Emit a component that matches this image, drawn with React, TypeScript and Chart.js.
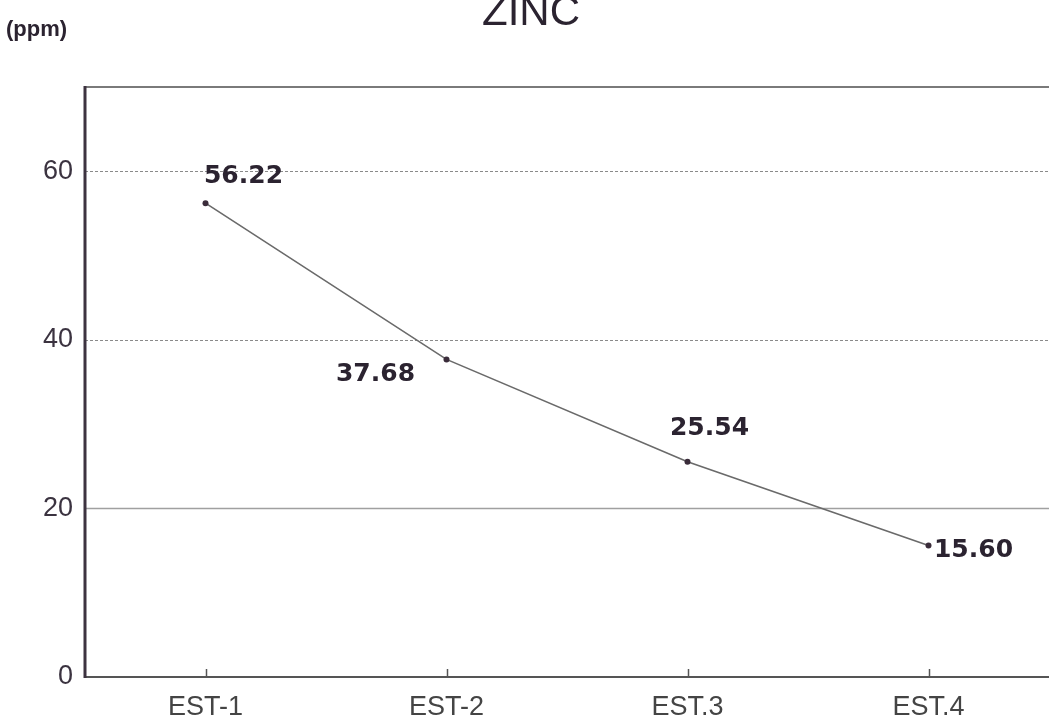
import React, { useEffect, useRef } from "react";
import { Chart, registerables } from "chart.js";

Chart.register(...registerables);

const categories = ["EST-1", "EST-2", "EST.3", "EST.4"];
const zincValues = [56.22, 37.68, 25.54, 15.6];
const valueLabels = ["56.22", "37.68", "25.54", "15.60"];
const gridValues = [20, 40, 60];
const gridDashes = [[], [3, 2], [3, 2]];
const labelOffsets = [
  [38, -20],
  [-71, 22],
  [22, -27],
  [45, 11],
];
const titleText = "ZINC";
const unitText = "(ppm)";

const decorPlugin = {
  id: "decor",
  beforeDatasetsDraw(chart: any) {
    const { ctx, chartArea, scales } = chart;
    const y = scales.y;
    const x = scales.x;
    ctx.save();
    gridValues.forEach((v, i) => {
      const py = Math.round(y.getPixelForValue(v)) + 0.5;
      ctx.beginPath();
      ctx.setLineDash(gridDashes[i]);
      ctx.strokeStyle = i === 0 ? "#a0a0a0" : "#8a8a8a";
      ctx.lineWidth = i === 0 ? 1.6 : 1.2;
      ctx.moveTo(chartArea.left, py);
      ctx.lineTo(chartArea.right, py);
      ctx.stroke();
    });
    ctx.setLineDash([]);
    ctx.beginPath();
    ctx.strokeStyle = "#7a7a7a";
    ctx.lineWidth = 2;
    ctx.moveTo(chartArea.left, chartArea.top);
    ctx.lineTo(chartArea.right, chartArea.top);
    ctx.stroke();
    ctx.beginPath();
    ctx.strokeStyle = "#555";
    ctx.lineWidth = 2;
    ctx.moveTo(chartArea.left, chartArea.bottom);
    ctx.lineTo(chartArea.right, chartArea.bottom);
    ctx.stroke();
    categories.forEach((_, i) => {
      const px = Math.round(x.getPixelForValue(i)) + 0.5;
      ctx.beginPath();
      ctx.strokeStyle = "#555";
      ctx.lineWidth = 1.5;
      ctx.moveTo(px, chartArea.bottom);
      ctx.lineTo(px, chartArea.bottom - 8);
      ctx.stroke();
    });
    ctx.beginPath();
    ctx.strokeStyle = "#3d3340";
    ctx.lineWidth = 3;
    ctx.moveTo(chartArea.left, chartArea.top - 1);
    ctx.lineTo(chartArea.left, chartArea.bottom + 1);
    ctx.stroke();
    ctx.restore();
  },
  afterDatasetsDraw(chart: any) {
    const { ctx } = chart;
    const meta = chart.getDatasetMeta(0);
    ctx.save();
    ctx.fillStyle = "#2b2330";
    ctx.font = 'bold 25px "DejaVu Sans"';
    ctx.textAlign = "center";
    ctx.textBaseline = "alphabetic";
    meta.data.forEach((pt: any, i: number) => {
      const [dx, dy] = labelOffsets[i];
      ctx.fillText(valueLabels[i], pt.x + dx, pt.y + dy);
    });
    ctx.font = '42px "Liberation Sans"';
    ctx.fillText(titleText, 531, 25);
    ctx.textAlign = "left";
    ctx.font = 'bold 22px "Liberation Sans"';
    ctx.fillText(unitText, 6, 36);
    ctx.restore();
  },
};

export default function App() {
  const ref = useRef<HTMLCanvasElement>(null);
  useEffect(() => {
    if (!ref.current) return;
    const chart = new Chart(ref.current, {
      type: "line",
      data: {
        labels: categories,
        datasets: [
          {
            data: zincValues,
            borderColor: "#6a6a6a",
            borderWidth: 1.6,
            pointRadius: 3,
            pointBackgroundColor: "#3a2c3a",
            pointBorderWidth: 0,
            tension: 0,
          },
        ],
      },
      options: {
        responsive: false,
        animation: false,
        devicePixelRatio: 1,
        layout: { padding: { top: 87, left: 0, right: 0, bottom: 0 } },
        plugins: {
          legend: { display: false },
          title: { display: false },
          tooltip: { enabled: false },
        },
        scales: {
          x: {
            type: "category",
            offset: true,
            grid: { display: false },
            border: { display: false },
            ticks: {
              color: "#444",
              font: { family: "Liberation Sans", size: 27 },
              padding: 6,
              maxRotation: 0,
            },
            afterFit(scale: any) {
              scale.height = 45;
            },
          },
          y: {
            min: 0,
            max: 70,
            grid: { display: false },
            border: { display: false },
            ticks: {
              stepSize: 20,
              color: "#3b3340",
              font: { family: "Liberation Sans", size: 27 },
              padding: 4,
              callback: (v: any) => (v === 70 ? "" : String(v)),
            },
            afterFit(scale: any) {
              scale.width = 85;
            },
          },
        },
      },
      plugins: [decorPlugin],
    });
    return () => chart.destroy();
  }, []);
  return (
    <div
      style={{
        position: "fixed",
        left: 0,
        top: 0,
        width: 1051,
        height: 722,
        overflow: "hidden",
        background: "#fff",
      }}
    >
      <canvas ref={ref} width={1053} height={722} style={{ display: "block" }} />
    </div>
  );
}
